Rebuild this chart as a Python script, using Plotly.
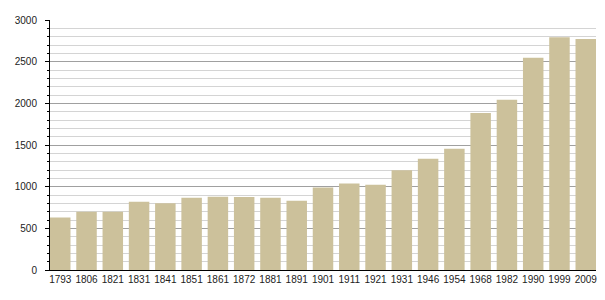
import plotly.graph_objects as go

years = ["1793", "1806", "1821", "1831", "1841", "1851", "1861", "1872", "1881", "1891",
         "1901", "1911", "1921", "1931", "1946", "1954", "1968", "1982", "1990", "1999", "2009"]
population = [630, 700, 698, 818, 802, 866, 880, 877, 866, 830,
              990, 1038, 1022, 1198, 1336, 1455, 1885, 2044, 2546, 2793, 2773]

bar_color = "#ccc19b"
gap = 0.22

fig = go.Figure(go.Bar(
    x=years, y=population,
    marker=dict(color=bar_color, line=dict(width=0)),
    hoverinfo="x+y",
))

fig.update_layout(
    width=605, height=300,
    margin=dict(l=50, r=9, t=20, b=30),
    paper_bgcolor="white", plot_bgcolor="white",
    bargap=gap,
    showlegend=False,
    font=dict(family="Liberation Sans, Arial, sans-serif", size=10, color="#222"),
)

fig.update_xaxes(
    type="category",
    range=[-0.5 + gap / 2, len(years) - 0.5 - gap / 2],
    showgrid=False,
    showline=True, linecolor="#000", linewidth=1,
    ticks="", tickfont=dict(size=10, color="#222"),
    fixedrange=True,
)

fig.update_yaxes(
    range=[0, 3000],
    tickvals=[0, 500, 1000, 1500, 2000, 2500, 3000],
    showgrid=True, gridcolor="#a0a0a0", gridwidth=1,
    showline=True, linecolor="#000", linewidth=1,
    ticks="outside", ticklen=4, tickcolor="#000", tickwidth=1,
    ticklabelstandoff=6,
    minor=dict(dtick=100, showgrid=True, gridcolor="#d4d4d4", gridwidth=1,
               ticks="outside", ticklen=2, tickcolor="#000"),
    zeroline=False,
    tickfont=dict(size=10, color="#222"),
    fixedrange=True,
)

fig.write_html("out.html")
